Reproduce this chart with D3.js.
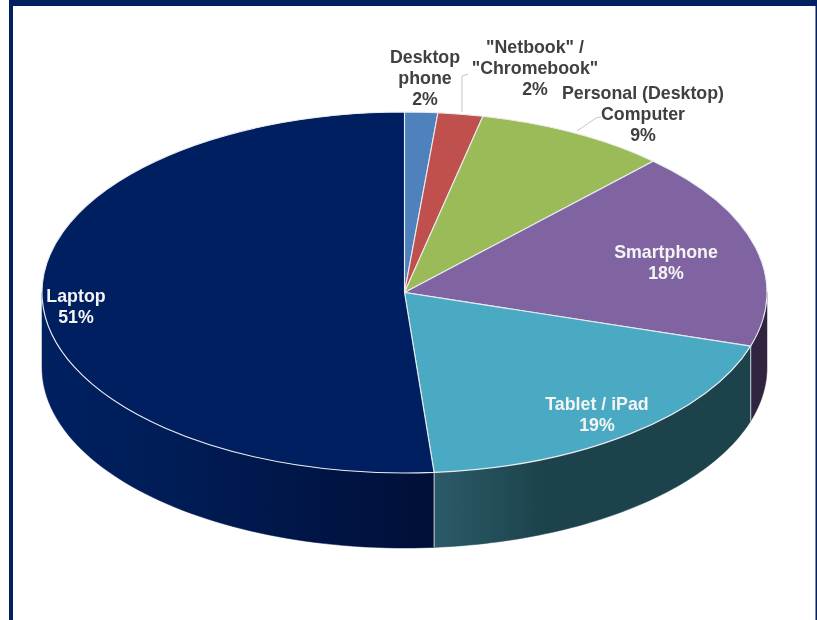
<!DOCTYPE html>
<html><head><meta charset="utf-8">
<script src="https://cdn.jsdelivr.net/npm/d3@7/dist/d3.min.js"></script>
<style>html,body{margin:0;padding:0;background:#fff;overflow:hidden}svg{display:block}
text{font-family:"Liberation Sans",Arial,sans-serif;font-weight:700;text-anchor:middle}</style>
</head><body><svg id="c" width="817" height="620"></svg>
<script>
const categories = ["Desktop phone", "\"Netbook\" / \"Chromebook\"", "Personal (Desktop) Computer", "Smartphone", "Tablet / iPad", "Laptop"];
const values = [1.47, 2.0, 8.56, 17.77, 18.9, 51.3];
const percentLabels = ["2%", "2%", "9%", "18%", "19%", "51%"];
const labelLines = [["Desktop", "phone"], ["\"Netbook\" /", "\"Chromebook\""], ["Personal (Desktop)", "Computer"], ["Smartphone"], ["Tablet / iPad"], ["Laptop"]];
const topColors = ["#4f81bd", "#c0504d", "#9bbb59", "#8064a2", "#4aa9c3", "#001f60"];
const wallStops = [["#2f4c72","#2f4c72"], ["#733130","#733130"], ["#5d7035","#5d7035"], ["#302440","#302440"], ["#2b5a68","#1c434c"], ["#002060","#000f38"]];
const labelColors = ["#404040","#404040","#404040","#f4f4f4","#f4f4f4","#f4f4f4"];

// layout
const W = 817, H = 620, cx = 404.5, cy = 292.5, rx = 362.5, ry = 180.5, depth = 75;
const labelPos = [[425,63],[535,53],[643,99],[666,258],[597,410],[76,302]];
const lineStep = 21, fontSize = 17.8;
const leaders = [[[462,112],[462,76],[468,74]], [[577,131],[596,118],[601,117]]];

const svg = d3.select("#c");
const defs = svg.append("defs");
defs.append("filter").attr("id","soft").attr("x","-5%").attr("y","-20%").attr("width","110%").attr("height","140%")
  .append("feGaussianBlur").attr("stdDeviation",0.45);

// frame
const frame = svg.append("g").attr("fill","#002060");
frame.append("rect").attr("x",9).attr("y",0).attr("width",W-9).attr("height",6);
frame.append("rect").attr("x",9).attr("y",0).attr("width",4).attr("height",H);
frame.append("rect").attr("x",W-1.5).attr("y",0).attr("width",1.5).attr("height",H);

const pie = d3.pie().value(d=>d).sort(null)(values);
const px = a => cx + rx*Math.sin(a), py = a => cy - ry*Math.cos(a);

// side walls (visible front half only)
const walls = svg.append("g");
pie.forEach((s,i)=>{
  const a0 = Math.max(s.startAngle, Math.PI/2), a1 = Math.min(s.endAngle, 3*Math.PI/2);
  if (a1 <= a0) return;
  const g = defs.append("linearGradient").attr("id","w"+i).attr("gradientUnits","userSpaceOnUse")
    .attr("x1",Math.min(px(a0),px(a1))).attr("x2",Math.max(px(a0),px(a1))).attr("y1",0).attr("y2",0);
  if (i===5){
    g.append("stop").attr("offset",0).attr("stop-color",wallStops[i][0]);
    g.append("stop").attr("offset",0.3).attr("stop-color","#001d58");
    g.append("stop").attr("offset",0.6).attr("stop-color","#00174a");
    g.append("stop").attr("offset",1).attr("stop-color",wallStops[i][1]);
  } else if (i===4){
    g.append("stop").attr("offset",0).attr("stop-color",wallStops[i][0]);
    g.append("stop").attr("offset",0.35).attr("stop-color",wallStops[i][1]);
    g.append("stop").attr("offset",1).attr("stop-color",wallStops[i][1]);
    g.attr("x1",px(a1)).attr("x2",px(a0));
  } else {
    g.append("stop").attr("offset",0).attr("stop-color",wallStops[i][0]);
    g.append("stop").attr("offset",1).attr("stop-color",wallStops[i][1]);
  }
  const pts = d3.range(0,61).map(k=>a0+(a1-a0)*k/60);
  const top = pts.map(a=>[px(a),py(a)]);
  const bot = pts.slice().reverse().map(a=>[px(a),py(a)+depth]);
  walls.append("path").attr("d",d3.line()(top.concat(bot))+"Z")
    .attr("fill",`url(#w${i})`).attr("stroke",`url(#w${i})`).attr("stroke-width",0.5);
  [s.startAngle,s.endAngle].forEach(a=>{
    if (a>Math.PI/2 && a<3*Math.PI/2)
      walls.append("line").attr("x1",px(a)).attr("x2",px(a)).attr("y1",py(a)).attr("y2",py(a)+depth)
        .attr("stroke","#c9d3d8").attr("stroke-width",0.9);
  });
});

// top face
const arc = d3.arc().innerRadius(0).outerRadius(rx);
const topG = svg.append("g").attr("transform",`translate(${cx},${cy}) scale(1,${ry/rx})`);
topG.selectAll("path").data(pie).join("path")
  .attr("d",arc).attr("fill",(d,i)=>topColors[i])
  .attr("stroke","#e8ecef").attr("stroke-width",1.1).attr("vector-effect","non-scaling-stroke");

// leaders
svg.append("g").selectAll("path").data(leaders).join("path")
  .attr("d",d3.line()).attr("fill","none").attr("stroke","#c8c8c8").attr("stroke-width",1);

// labels
const lab = svg.append("g").attr("filter","url(#soft)").style("font-size",fontSize+"px");
categories.forEach((c,i)=>{
  const lines = labelLines[i].concat(percentLabels[i]);
  const t = lab.append("text").attr("x",labelPos[i][0]).attr("y",labelPos[i][1]).attr("fill",labelColors[i]);
  lines.forEach((l,k)=>t.append("tspan").attr("x",labelPos[i][0]).attr("dy",k?lineStep:0).text(l));
});
</script></body></html>
